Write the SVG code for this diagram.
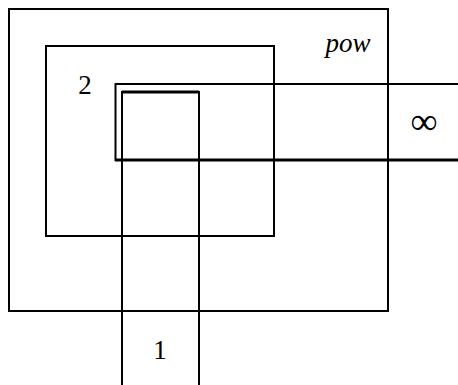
<svg xmlns="http://www.w3.org/2000/svg" width="458" height="385" viewBox="0 0 458 385">
<style>
.l{fill:none;stroke:#000;stroke-width:2}
.t{font-family:"Liberation Serif","DejaVu Serif",serif;font-size:27px;fill:#000}
</style>
<rect width="458" height="385" fill="#fff"/>
<g id="pow"><rect class="l" x="9" y="9" width="379" height="302"/><text class="t" x="348" y="52" text-anchor="middle" style="font-style:italic">pow</text></g>
<g id="n2"><rect class="l" x="46" y="46" width="228" height="190"/><text class="t" x="85" y="94" text-anchor="middle">2</text></g>
<g id="inf"><path class="l" d="M458 84H115.5V160H458"/><path d="M115 160H458" stroke="#000" stroke-width="3"/><text class="t" x="424" y="134" text-anchor="middle" style="font-size:38px">∞</text></g>
<g id="n1"><path class="l" d="M122 385V92H199V385"/><path d="M122 92H199" stroke="#000" stroke-width="3"/><text class="t" x="160" y="359" text-anchor="middle">1</text></g>
<g id="connectors"></g>
</svg>
